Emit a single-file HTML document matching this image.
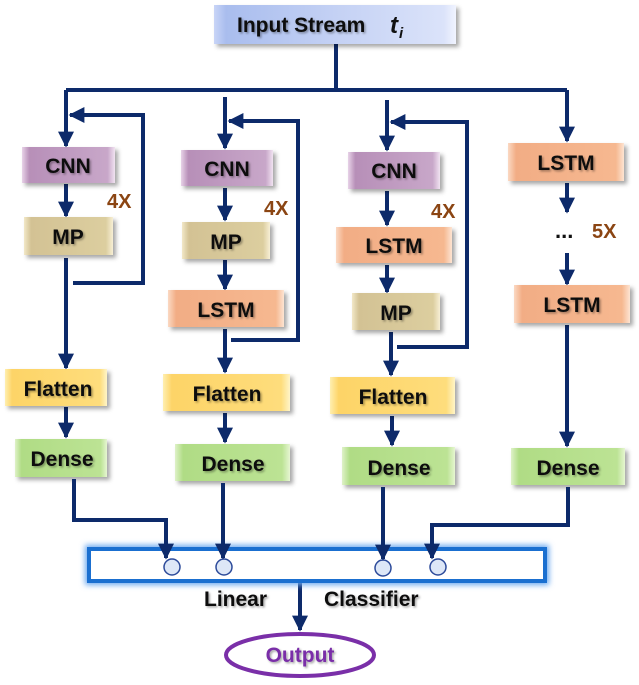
<!DOCTYPE html>
<html><head><meta charset="utf-8"><style>
html,body{margin:0;padding:0;background:#fff;}
svg{display:block;}
text{font-family:"Liberation Sans",sans-serif;font-weight:bold;}
</style></head><body>
<svg width="639" height="685" viewBox="0 0 639 685" xmlns="http://www.w3.org/2000/svg">
<defs>
<filter id="sh" x="-20%" y="-30%" width="150%" height="170%"><feDropShadow dx="3" dy="3" stdDeviation="2" flood-color="#000" flood-opacity="0.35"/></filter>
<filter id="ts" x="-10%" y="-10%" width="130%" height="140%"><feDropShadow dx="1.5" dy="1.5" stdDeviation="1" flood-color="#000" flood-opacity="0.35"/></filter>
<filter id="glow" x="-10%" y="-50%" width="120%" height="200%"><feGaussianBlur stdDeviation="3"/></filter>
<linearGradient id="gi" x1="0" x2="1"><stop offset="0" stop-color="#c9d5f7"/><stop offset="0.05" stop-color="#a9bdee"/><stop offset="0.5" stop-color="#c4d1f4"/><stop offset="0.95" stop-color="#dbe3fa"/><stop offset="1" stop-color="#f1f4ff"/></linearGradient>
<linearGradient id="gc" x1="0" x2="1"><stop offset="0" stop-color="#e8d3e8"/><stop offset="0.08" stop-color="#b78fb8"/><stop offset="0.92" stop-color="#c8a7c9"/><stop offset="1" stop-color="#f1e3f1"/></linearGradient>
<linearGradient id="gm" x1="0" x2="1"><stop offset="0" stop-color="#f2e8c8"/><stop offset="0.08" stop-color="#d3c294"/><stop offset="0.92" stop-color="#dcce9f"/><stop offset="1" stop-color="#f7efd5"/></linearGradient>
<linearGradient id="gl" x1="0" x2="1"><stop offset="0" stop-color="#fbd9c3"/><stop offset="0.07" stop-color="#f2ad85"/><stop offset="0.93" stop-color="#f6b890"/><stop offset="1" stop-color="#fde4d2"/></linearGradient>
<linearGradient id="gf" x1="0" x2="1"><stop offset="0" stop-color="#ffefb0"/><stop offset="0.07" stop-color="#fdd467"/><stop offset="0.93" stop-color="#fedd7c"/><stop offset="1" stop-color="#fff5c8"/></linearGradient>
<linearGradient id="gd" x1="0" x2="1"><stop offset="0" stop-color="#dff2c8"/><stop offset="0.07" stop-color="#b0dc85"/><stop offset="0.93" stop-color="#bce394"/><stop offset="1" stop-color="#e6f6d2"/></linearGradient>
<marker id="ar" viewBox="0 0 10 10" refX="9" refY="5" markerWidth="4" markerHeight="4" orient="auto"><path d="M0,0 L10,5 L0,10 z" fill="#0d2a6a"/></marker>
</defs>

<g stroke="#0d2a6a" stroke-width="4" fill="none">
<path d="M336,44 V90"/>
<path d="M66,90 H567"/>
<path d="M66,90 V146" marker-end="url(#ar)"/>
<path d="M225,97 V148" marker-end="url(#ar)"/>
<path d="M387,100 V150" marker-end="url(#ar)"/>
<path d="M567,90 V141" marker-end="url(#ar)"/>
<path d="M66,184 V216" marker-end="url(#ar)"/>
<path d="M66,258 V368" marker-end="url(#ar)"/>
<path d="M73,283 H143 V115 H70" marker-end="url(#ar)"/>
<path d="M66,407 V437" marker-end="url(#ar)"/>
<path d="M225,188 V220" marker-end="url(#ar)"/>
<path d="M225,260 V289" marker-end="url(#ar)"/>
<path d="M225,329 V372" marker-end="url(#ar)"/>
<path d="M231,340 H298 V121 H229" marker-end="url(#ar)"/>
<path d="M225,413 V442" marker-end="url(#ar)"/>
<path d="M387,191 V225" marker-end="url(#ar)"/>
<path d="M387,265 V292" marker-end="url(#ar)"/>
<path d="M391,332 V375" marker-end="url(#ar)"/>
<path d="M397,347 H467 V122 H391" marker-end="url(#ar)"/>
<path d="M392,416 V445" marker-end="url(#ar)"/>
<path d="M567,183 V212" marker-end="url(#ar)"/>
<path d="M567,253 V284" marker-end="url(#ar)"/>
<path d="M567,325 V446" marker-end="url(#ar)"/>
<path d="M300,582 V630" marker-end="url(#ar)"/>
</g>

<rect x="214" y="5" width="242" height="39" fill="url(#gi)" filter="url(#sh)"/>
<text x="237" y="32" font-size="21" fill="#111" filter="url(#ts)">Input Stream</text>
<text x="390" y="33" font-size="24" font-family="Liberation Serif" font-style="italic" fill="#111">t</text>
<text x="399" y="38" font-size="15" font-family="Liberation Serif" font-style="italic" fill="#111">i</text>

<g filter="url(#sh)">
<rect x="22" y="147" width="93" height="36" fill="url(#gc)"/>
<rect x="24" y="217" width="89" height="38" fill="url(#gm)"/>
<rect x="5" y="369" width="102" height="37" fill="url(#gf)"/>
<rect x="15" y="439" width="92" height="38" fill="url(#gd)"/>
<rect x="181" y="150" width="92" height="36" fill="url(#gc)"/>
<rect x="182" y="222" width="88" height="37" fill="url(#gm)"/>
<rect x="168" y="290" width="116" height="37" fill="url(#gl)"/>
<rect x="163" y="374" width="127" height="37" fill="url(#gf)"/>
<rect x="175" y="444" width="115" height="37" fill="url(#gd)"/>
<rect x="348" y="152" width="92" height="37" fill="url(#gc)"/>
<rect x="336" y="227" width="116" height="36" fill="url(#gl)"/>
<rect x="352" y="293" width="88" height="37" fill="url(#gm)"/>
<rect x="330" y="377" width="125" height="37" fill="url(#gf)"/>
<rect x="342" y="447" width="113" height="38" fill="url(#gd)"/>
<rect x="508" y="143" width="116" height="38" fill="url(#gl)"/>
<rect x="514" y="285" width="116" height="38" fill="url(#gl)"/>
<rect x="511" y="448" width="114" height="37" fill="url(#gd)"/>
</g>

<g font-size="21" fill="#111" text-anchor="middle" filter="url(#ts)">
<text x="68" y="173">CNN</text>
<text x="68" y="244">MP</text>
<text x="58" y="396">Flatten</text>
<text x="62" y="466">Dense</text>
<text x="227" y="176">CNN</text>
<text x="226" y="249">MP</text>
<text x="226" y="317">LSTM</text>
<text x="227" y="401">Flatten</text>
<text x="233" y="471">Dense</text>
<text x="394" y="178">CNN</text>
<text x="394" y="253">LSTM</text>
<text x="396" y="320">MP</text>
<text x="393" y="404">Flatten</text>
<text x="399" y="475">Dense</text>
<text x="566" y="170">LSTM</text>
<text x="572" y="312">LSTM</text>
<text x="568" y="475">Dense</text>
</g>
<g font-size="20" fill="#8b4513">
<text x="107" y="208">4X</text>
<text x="264" y="215">4X</text>
<text x="431" y="218">4X</text>
<text x="592" y="238">5X</text>
</g>
<text x="555" y="238" font-size="22" fill="#111">...</text>

<rect x="89" y="549" width="456" height="32" fill="none" stroke="#6aa8f0" stroke-width="8" filter="url(#glow)"/>
<rect x="89" y="549" width="456" height="32" fill="#fff" stroke="#1a6fd0" stroke-width="4"/>
<g fill="#dde7f7" stroke="#2c4a9a" stroke-width="1.5">
<circle cx="172" cy="567" r="8"/><circle cx="224" cy="567" r="8"/><circle cx="383" cy="568" r="8"/><circle cx="438" cy="567" r="8"/>
</g>
<g stroke="#0d2a6a" stroke-width="4" fill="none">
<path d="M74,479 V520 H166 V558" marker-end="url(#ar)"/>
<path d="M223,483 V558" marker-end="url(#ar)"/>
<path d="M383,487 V559" marker-end="url(#ar)"/>
<path d="M568,487 V525 H432 V558" marker-end="url(#ar)"/>
</g>
<g font-size="21" fill="#111" filter="url(#ts)">
<text x="204" y="606">Linear</text>
<text x="324" y="606">Classifier</text>
</g>
<ellipse cx="300" cy="655" rx="74" ry="21" fill="#fff" stroke="#7a2fa8" stroke-width="4"/>
<text x="300" y="662" font-size="21" fill="#7a2fa8" text-anchor="middle" filter="url(#ts)">Output</text>
</svg>
</body></html>
